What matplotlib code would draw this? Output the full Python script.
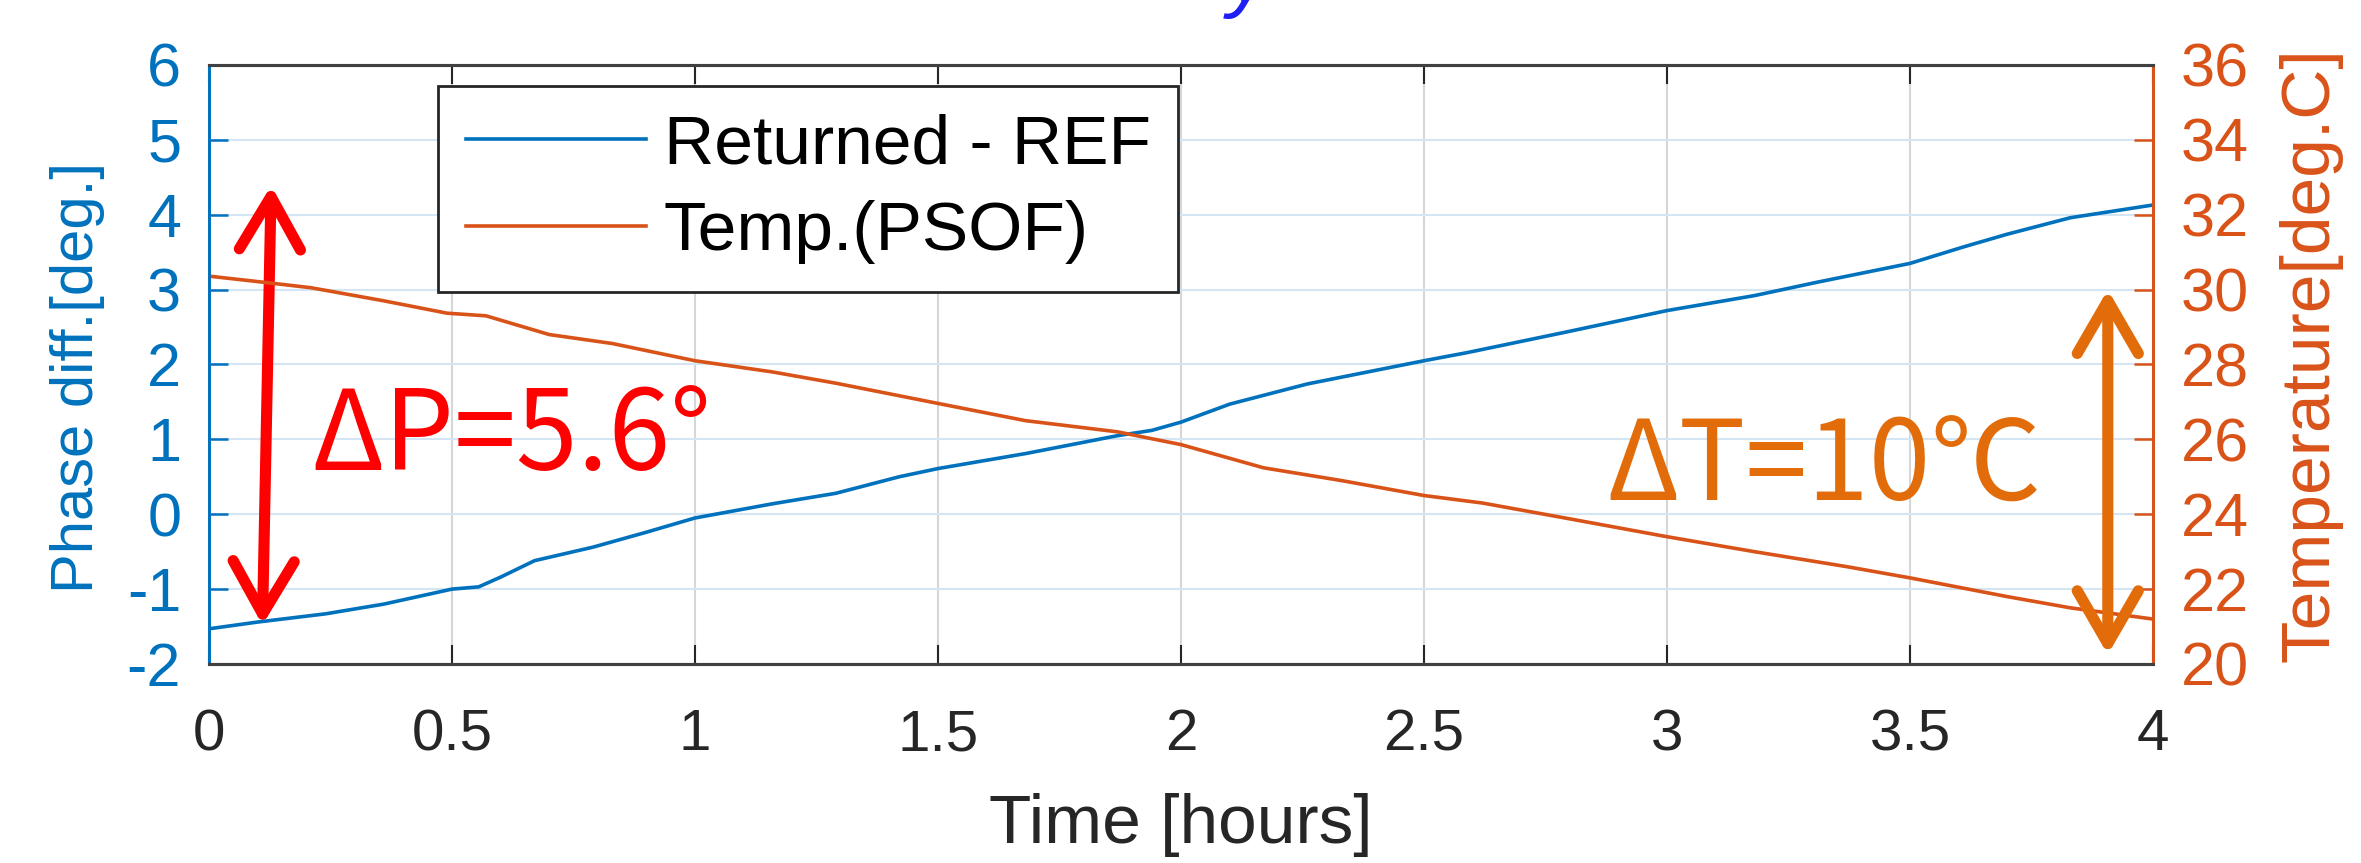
import matplotlib
matplotlib.use("Agg")
import matplotlib.pyplot as plt

plt.rcParams['font.family'] = ['Liberation Sans', 'DejaVu Sans']
plt.rcParams['axes.unicode_minus'] = False

# data
t_phase = [0, 0.1, 0.24, 0.36, 0.5, 0.555, 0.6, 0.67, 0.79, 0.9, 1.0, 1.16, 1.29,
           1.42, 1.5, 1.68, 1.87, 1.94, 2.0, 2.1, 2.26, 2.5, 2.59, 2.79, 3.0,
           3.18, 3.31, 3.5, 3.61, 3.7, 3.83, 4.0]
phase = [-1.53, -1.44, -1.33, -1.2, -1.0, -0.97, -0.84, -0.62, -0.44, -0.24, -0.05,
         0.14, 0.28, 0.5, 0.61, 0.81, 1.05, 1.12, 1.23, 1.47, 1.74, 2.05, 2.16,
         2.43, 2.72, 2.92, 3.1, 3.35, 3.57, 3.74, 3.96, 4.13]
t_temp = [0, 0.11, 0.21, 0.36, 0.49, 0.57, 0.7, 0.83, 1.0, 1.16, 1.29, 1.5, 1.68,
          1.87, 2.0, 2.17, 2.33, 2.5, 2.62, 2.79, 3.0, 3.18, 3.37, 3.5, 3.7, 3.83, 4.0]
temp = [30.36, 30.2, 30.05, 29.7, 29.37, 29.3, 28.8, 28.56, 28.1, 27.8, 27.5, 26.96,
        26.5, 26.2, 25.86, 25.24, 24.9, 24.5, 24.3, 23.9, 23.4, 23.0, 22.6, 22.3,
        21.8, 21.5, 21.2]
x_ticks = [0, 0.5, 1, 1.5, 2, 2.5, 3, 3.5, 4]
x_ticklabels = ['0', '0.5', '1', '1.5', '2', '2.5', '3', '3.5', '4']
phase_ticks = list(range(-2, 7))
temp_ticks = list(range(20, 37, 2))
series_names = ['Returned - REF', 'Temp.(PSOF)']

# dP arrow ends (hours, deg), dT arrow ends (hours, deg C)
dp_arrow = [(0.11, -1.48), (0.128, 4.39)]
dt_arrow = [(3.907, 20.25), (3.907, 30.0)]

BLUE = '#0072BD'
ORANGE = '#D95319'
RED = '#FF0000'
ANN_ORANGE = '#E36C0A'
CJK = ['Noto Sans CJK SC', 'DejaVu Sans']

fig = plt.figure(figsize=(23.61, 8.63), dpi=100)
ax = fig.add_axes([0.0885, 0.2306, 0.8234, 0.6941])
ax2 = ax.twinx()

l1, = ax.plot(t_phase, phase, color=BLUE, lw=2.6)
l2, = ax2.plot(t_temp, temp, color=ORANGE, lw=2.6)

ax.set_xlim(0, 4)
ax.set_ylim(-2, 6)
ax2.set_ylim(20, 36)
ax.set_xticks(x_ticks)
ax.set_xticklabels(x_ticklabels)
ax.set_yticks(phase_ticks)
ax2.set_yticks(temp_ticks)

# grid: grey verticals, light blue horizontals
ax.xaxis.grid(True, color='#d6d6d6', lw=1.5)
ax.yaxis.grid(True, color='#d4e5f3', lw=1.5)
ax.set_axisbelow(True)

ax.tick_params(axis='x', direction='in', length=14, width=1.5, top=True,
               labelsize=42, pad=32, colors='#262626')
ax.tick_params(axis='y', direction='in', length=14, width=1.8,
               labelsize=44, pad=20, colors=BLUE)
ax2.tick_params(axis='y', direction='in', length=14, width=1.8,
                labelsize=44, pad=20, colors=ORANGE)

for a in (ax, ax2):
    a.spines['top'].set_color('#404040')
    a.spines['bottom'].set_color('#404040')
    a.spines['top'].set_linewidth(2.2)
    a.spines['bottom'].set_linewidth(2.2)
    a.spines['left'].set_color(BLUE)
    a.spines['right'].set_color(ORANGE)
    a.spines['left'].set_linewidth(2)
    a.spines['right'].set_linewidth(2)

ax.set_xlabel('Time [hours]', fontsize=50, color='#262626', labelpad=22)
ax.set_ylabel('Phase diff.[deg.]', fontsize=43, color=BLUE)
ax.yaxis.set_label_coords(-0.0674, 0.478)
ax.yaxis.label.set_va('center')
ax2.set_ylabel('Temperature[deg.C]', fontsize=50, color=ORANGE)
ax2.yaxis.set_label_coords(1.081, 0.516)
ax2.yaxis.label.set_va('center')

leg = ax2.legend([l1, l2], series_names, loc='upper left',
                 bbox_to_anchor=(0.1178, 0.965), borderaxespad=0,
                 fontsize=50, handlelength=2.6, handletextpad=0.25,
                 labelspacing=0.32, borderpad=0.4, fancybox=False,
                 framealpha=1, edgecolor='#262626')
leg.get_frame().set_linewidth(2)

# annotations
arrow_style = '<->,head_length=38,head_width=22'
ax.annotate('', xy=dp_arrow[1], xytext=dp_arrow[0],
            arrowprops=dict(arrowstyle=arrow_style, mutation_scale=1, lw=8,
                            color=RED, capstyle='round', joinstyle='round',
                            shrinkA=0, shrinkB=0))
ax2.annotate('', xy=dt_arrow[1], xytext=dt_arrow[0],
             arrowprops=dict(arrowstyle=arrow_style, mutation_scale=1, lw=8,
                             color=ANN_ORANGE, capstyle='round', joinstyle='round',
                             shrinkA=0, shrinkB=0))

ax.text(0.21, 0.59, 'ΔP=5.6°', color=RED, fontsize=80, ha='left', va='baseline',
        family=CJK)
ax.text(2.875, 0.19, 'ΔT=10℃', color=ANN_ORANGE, fontsize=80, ha='left',
        va='baseline', family=CJK)

# clipped title remnant at the very top
fig.text(1249 / 2361, 1 - 2 / 863, 'y', color='#1f1ff5', fontsize=60, style='italic',
         ha='center', va='baseline')

fig.savefig('out.png', dpi=100)
